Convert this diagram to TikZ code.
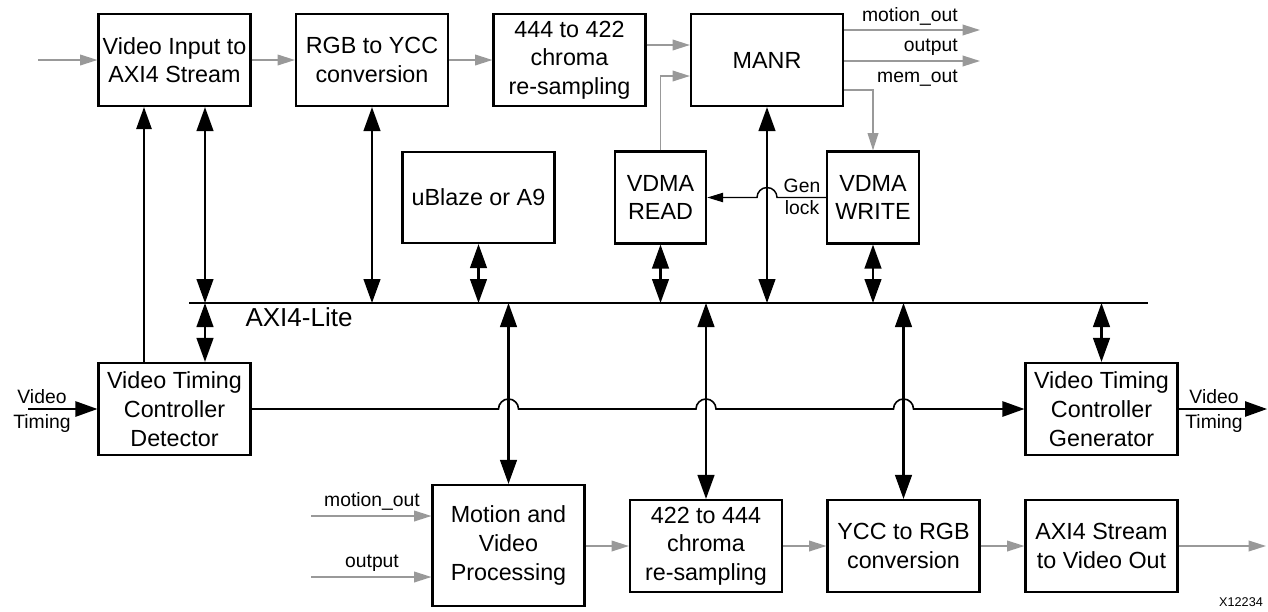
\documentclass[tikz,border=0pt]{standalone}
\usepackage{fontspec}
\setmainfont{Liberation Sans}
\usepackage{tikz}
\usetikzlibrary{arrows.meta}
\definecolor{datagray}{gray}{0.6}

\begin{document}
\begin{tikzpicture}[x=0.75pt, y=-0.75pt,
  main/.style = {draw, line width=1.6pt, minimum width=114pt, minimum height=69pt, inner sep=0pt, align=center, font=\fontsize{17.5}{21.5}\selectfont},
  small/.style = {main, minimum width=68.5pt},
  lbl/.style = {inner sep=0pt, align=center, font=\fontsize{14.5}{16}\selectfont},
  data/.style = {draw=datagray, line width=1.1pt, -{Triangle[length=13pt, width=8pt]}},
  ctl/.style = {line width=1.7pt, {Triangle[length=18pt, width=12.5pt]}-{Triangle[length=18pt, width=12.5pt]}},
  tim/.style = {line width=1.2pt, -{Triangle[length=16.5pt, width=11.5pt]}}]
\useasboundingbox (0,0) rectangle (1268,611);

\node[main] (vin) at (174.5,60) {Video Input to\\AXI4 Stream};
\node[main] (rgb) at (372,60) {RGB to YCC\\conversion};
\node[main] (chr1) at (569.5,60) {444 to 422\\chroma\\re-sampling};
\node[main] (manr) at (767,60) {MANR};
\node[main, minimum height=68.25pt] (ublaze) at (478.5,197.5) {uBlaze or A9};
\node[small] (vrd) at (660.5,197.5) {VDMA\\READ};
\node[small] (vwr) at (873,197.5) {VDMA\\WRITE};
\node[main] (vtcd) at (174.5,409) {Video Timing\\Controller\\Detector};
\node[main] (vtcg) at (1101.5,409) {Video Timing\\Controller\\Generator};
\node[main, minimum height=90.75pt] (mvp) at (508.5,545.5) {Motion and\\Video\\Processing};
\node[main] (chr2) at (706,546) {422 to 444\\chroma\\re-sampling};
\node[main] (ycc) at (903.5,546) {YCC to RGB\\conversion};
\node[main] (aout) at (1101.5,546) {AXI4 Stream\\to Video Out};

% AXI4-Lite bus
\coordinate (busL) at (189,303);
\coordinate (busR) at (1148,303);
\coordinate (bus) at (0,303);
\draw[line width=1.6pt] (busL) -- (busR);
\node[inner sep=0pt, font=\fontsize{19.5}{20}\selectfont] (axi) at (299,317.5) {AXI4-Lite};

% video path, top row
\coordinate (vidin) at (38,60);
\draw[data] (vidin) -- (vin.west);
\draw[data] (vin.east) -- (rgb.west);
\draw[data] (rgb.east) -- (chr1.west);
\draw[data] (chr1.east |- 0,45) -- (manr.west |- 0,45);
\draw[data] (vrd.north) |- (manr.west |- 0,76);
\coordinate (mo) at (980,30);
\coordinate (op) at (980,61);
\draw[data] (manr.east |- mo) -- (mo);
\draw[data] (manr.east |- op) -- (op);
\draw[data] (manr.east |- 0,90) -| (vwr.north);
\node[lbl, anchor=base east] (lmo) at (958,21) {motion\_out};
\node[lbl, anchor=base east] (lop) at (958,51) {output};
\node[lbl, anchor=base east] (lmem) at (958,82) {mem\_out};

% gen lock
\draw[line width=1.1pt, -{Triangle[length=12pt, width=7pt]}] (vwr.west) -- (777,197.5) arc[start angle=0, end angle=180, radius=7.5pt] -- (vrd.east);
\node[lbl] (gen) at (802,197) {Gen\\lock};

% control connections
\draw[ctl] (205,0 |- vin.south) -- (205,0 |- bus);
\draw[ctl] (205,0 |- bus) -- (205,0 |- vtcd.north);
\foreach \n in {rgb, ublaze, vrd, manr, vwr}
  \draw[ctl] (\n.south) -- (\n.south |- bus);
\foreach \n in {mvp, chr2, ycc, vtcg}
  \draw[ctl] (\n.north |- bus) -- (\n.north);

% timing
\draw[tim] (144,0 |- vtcd.north) -- (144,0 |- vin.south);
\draw[tim] (vtcd.east) foreach \x in {508.5, 706, 903.5} { -- ({\x-10},409) arc[start angle=180, end angle=0, radius=7.5pt] } -- (vtcg.west);
\coordinate (vtin) at (28,409);
\coordinate (vtout) at (1267,409);
\draw[tim] (vtin) -- (vtcd.west);
\draw[tim] (vtcg.east) -- (vtout);
\node[lbl, font=\fontsize{14.5}{18.5}\selectfont] (lvti) at (42,411) {Video\\Timing};
\node[lbl, font=\fontsize{14.5}{18.5}\selectfont] (lvto) at (1214,411) {Video\\Timing};

% video path, bottom row
\coordinate (mo2) at (311,516);
\coordinate (op2) at (311,577);
\draw[data] (mo2) -- (mvp.west |- mo2);
\draw[data] (op2) -- (mvp.west |- op2);
\node[lbl, anchor=base] (lmo2) at (372,506) {motion\_out};
\node[lbl, anchor=base] (lop2) at (372,567) {output};
\draw[data] (mvp.east |- chr2.west) -- (chr2.west);
\draw[data] (chr2.east) -- (ycc.west);
\draw[data] (ycc.east) -- (aout.west);
\coordinate (vidout) at (1266,546);
\draw[data] (aout.east) -- (vidout);
\node[inner sep=0pt, font=\fontsize{9.5}{10}\selectfont] (fig) at (1241,602.5) {X12234};
\end{tikzpicture}
\end{document}
